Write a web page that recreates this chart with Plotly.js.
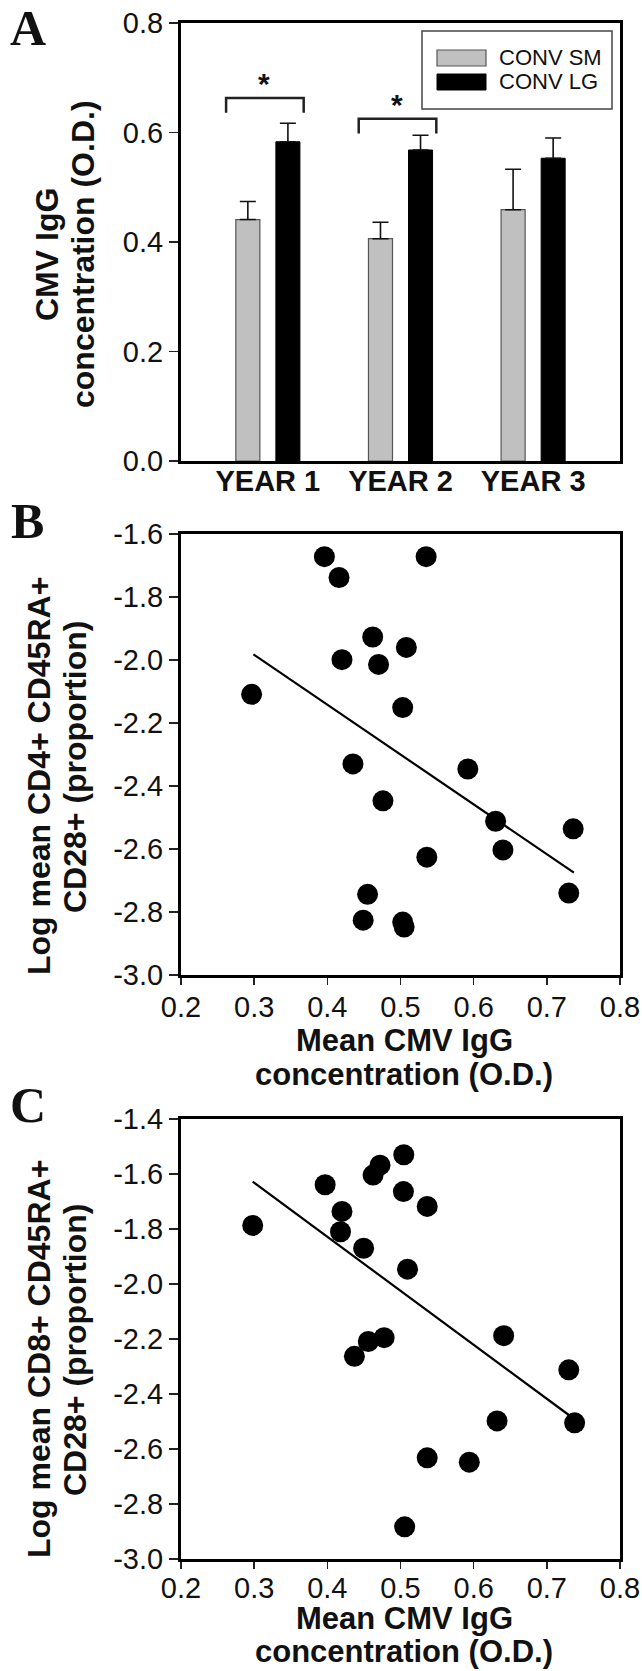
<!DOCTYPE html>
<html>
<head>
<meta charset="utf-8">
<script src="https://cdn.plot.ly/plotly-3.0.1.min.js"></script>
<style>
  html, body { margin: 0; padding: 0; background: #ffffff; }
  #chart { width: 642px; height: 1671px; }
</style>
</head>
<body>
<div id="chart"></div>
<script>
// ---------- Panel A data ----------
const years = ['YEAR 1', 'YEAR 2', 'YEAR 3'];
const seriesNames = ['CONV SM', 'CONV LG'];
const convSM = [0.441, 0.406, 0.459];
const convSMErr = [0.033, 0.030, 0.074];
const convLG = [0.583, 0.568, 0.553];
const convLGErr = [0.034, 0.027, 0.037];
const sigYears = ['YEAR 1', 'YEAR 2'];
const sigHeights = [0.663, 0.625];
const yTicksA = [0.0, 0.2, 0.4, 0.6, 0.8];

// ---------- Panel B data ----------
const igG_B = [0.396, 0.416, 0.535, 0.462, 0.508, 0.420, 0.470, 0.2965, 0.503, 0.435, 0.592,
               0.476, 0.630, 0.736, 0.640, 0.536, 0.455, 0.730, 0.449, 0.503, 0.505];
const cd4 = [-1.672, -1.738, -1.672, -1.927, -1.960, -1.999, -2.014, -2.109, -2.151, -2.330, -2.346,
             -2.447, -2.512, -2.536, -2.603, -2.626, -2.744, -2.740, -2.826, -2.832, -2.848];
const fitB_x = [0.299, 0.737];
const fitB_y = [-1.982, -2.675];
const yTicksB = [-3.0, -2.8, -2.6, -2.4, -2.2, -2.0, -1.8, -1.6];

// ---------- Panel C data ----------
const igG_C = [0.5045, 0.472, 0.4625, 0.397, 0.504, 0.5365, 0.420, 0.298, 0.418, 0.4496, 0.5096,
               0.641, 0.4776, 0.456, 0.437, 0.730, 0.632, 0.738, 0.5365, 0.594, 0.5057];
const cd8 = [-1.530, -1.568, -1.604, -1.639, -1.664, -1.718, -1.736, -1.787, -1.810, -1.870, -1.946,
             -2.188, -2.195, -2.209, -2.263, -2.312, -2.498, -2.505, -2.632, -2.648, -2.883];
const fitC_x = [0.298, 0.737];
const fitC_y = [-1.628, -2.49];
const yTicksC = [-3.0, -2.8, -2.6, -2.4, -2.2, -2.0, -1.8, -1.6, -1.4];
const xTicksBC = [0.2, 0.3, 0.4, 0.5, 0.6, 0.7, 0.8];

// ---------- titles ----------
const titleA = ['CMV IgG', 'concentration (O.D.)'];
const titleB = ['Log mean CD4+ CD45RA+', 'CD28+ (proportion)'];
const titleC = ['Log mean CD8+ CD45RA+', 'CD28+ (proportion)'];
const titleX = ['Mean CMV IgG', 'concentration (O.D.)'];

// ---------- geometry helpers ----------
const W = 642, H = 1671;
const px = x => x / W;
const py = y => 1 - y / H;
const SANS = 'Liberation Sans, Arial, Helvetica, sans-serif';
const SERIF = 'Liberation Serif, Times New Roman, serif';
const yearIdx = years.map((_, i) => i);

const traces = [
  {
    type: 'bar', name: seriesNames[0], x: yearIdx, y: convSM, xaxis: 'x', yaxis: 'y',
    marker: { color: '#c0c0c0', line: { color: '#555555', width: 1.2 } },
    error_y: { type: 'data', array: convSMErr, arrayminus: convSM.map(() => 0), symmetric: false,
               color: '#111111', thickness: 1.6, width: 8 },
    showlegend: false
  },
  {
    type: 'bar', name: seriesNames[1], x: yearIdx, y: convLG, xaxis: 'x', yaxis: 'y',
    marker: { color: '#000000', line: { color: '#000000', width: 1 } },
    error_y: { type: 'data', array: convLGErr, arrayminus: convLG.map(() => 0), symmetric: false,
               color: '#111111', thickness: 1.6, width: 8 },
    showlegend: false
  },
  {
    type: 'scatter', mode: 'markers', x: igG_B, y: cd4, xaxis: 'x2', yaxis: 'y2',
    marker: { color: '#000000', size: 21 }, showlegend: false
  },
  {
    type: 'scatter', mode: 'lines', x: fitB_x, y: fitB_y, xaxis: 'x2', yaxis: 'y2',
    line: { color: '#000000', width: 2.2 }, showlegend: false
  },
  {
    type: 'scatter', mode: 'markers', x: igG_C, y: cd8, xaxis: 'x3', yaxis: 'y3',
    marker: { color: '#000000', size: 21 }, showlegend: false
  },
  {
    type: 'scatter', mode: 'lines', x: fitC_x, y: fitC_y, xaxis: 'x3', yaxis: 'y3',
    line: { color: '#000000', width: 2.2 }, showlegend: false
  }
];

const frame = {
  showline: true, mirror: true, linecolor: '#000000', linewidth: 3,
  showgrid: false, zeroline: false, fixedrange: true
};
const tickFont = { family: SANS, size: 29, color: '#111111' };
const xDomain = [px(181), px(620)];

function yAxis(domTop, domBottom, range, vals) {
  return Object.assign({}, frame, {
    domain: [py(domBottom), py(domTop)], range: range, autorange: false,
    tickvals: vals, ticktext: vals.map(v => v.toFixed(1)),
    ticks: 'outside', ticklen: 9, tickwidth: 1.5, tickcolor: '#222222',
    tickfont: tickFont, ticklabelstandoff: 0
  });
}
function xAxisBC(anchor, standoff) {
  return Object.assign({}, frame, {
    domain: xDomain, anchor: anchor, range: [0.2, 0.8], autorange: false,
    tickvals: xTicksBC, ticktext: xTicksBC.map(v => v.toFixed(1)),
    ticks: 'outside', ticklen: 7, tickwidth: 1.5, tickcolor: '#222222',
    tickfont: tickFont, ticklabelstandoff: standoff
  });
}

// Significance brackets and stars
const shapes = [];
const annotations = [];
sigYears.forEach((yr, i) => {
  const c = years.indexOf(yr);
  const x0 = c - 0.315, x1 = c + 0.27, yt = sigHeights[i], ye = sigHeights[i] - 0.027;
  shapes.push({
    type: 'path', xref: 'x', yref: 'y',
    path: `M ${x0},${ye} L ${x0},${yt} L ${x1},${yt} L ${x1},${ye}`,
    line: { color: '#222222', width: 2.5 }
  });
  annotations.push({
    xref: 'x', yref: 'y', x: c - 0.03, y: yt + 0.026, text: '<b>*</b>', showarrow: false,
    font: { family: SANS, size: 30, color: '#111111' }, xanchor: 'center', yanchor: 'middle'
  });
});

// Legend (drawn box)
shapes.push({ type: 'rect', xref: 'paper', yref: 'paper', x0: px(422), x1: px(612), y0: py(109), y1: py(31),
              line: { color: '#444444', width: 1.5 }, fillcolor: 'rgba(0,0,0,0)' });
shapes.push({ type: 'rect', xref: 'paper', yref: 'paper', x0: px(437), x1: px(486), y0: py(66), y1: py(50),
              line: { color: '#555555', width: 1.2 }, fillcolor: '#c0c0c0' });
shapes.push({ type: 'rect', xref: 'paper', yref: 'paper', x0: px(437), x1: px(486), y0: py(90), y1: py(74),
              line: { color: '#000000', width: 1 }, fillcolor: '#000000' });
annotations.push({ xref: 'paper', yref: 'paper', x: px(497), y: py(58), xanchor: 'left', yanchor: 'middle',
                   text: seriesNames[0], showarrow: false, font: { family: SANS, size: 22, color: '#111111' } });
annotations.push({ xref: 'paper', yref: 'paper', x: px(497), y: py(82), xanchor: 'left', yanchor: 'middle',
                   text: seriesNames[1], showarrow: false, font: { family: SANS, size: 22, color: '#111111' } });

// Panel letters
[['A', 28, 28], ['B', 27, 521], ['C', 28, 1105]].forEach(([t, x, y]) => {
  annotations.push({ xref: 'paper', yref: 'paper', x: px(x), y: py(y), xanchor: 'center', yanchor: 'middle',
                     text: '<b>' + t + '</b>', showarrow: false,
                     font: { family: SERIF, size: 50, color: '#111111' } });
});

// Axis titles, one annotation per line
const titleFont = { family: SANS, size: 32, color: '#111111' };
const xTitleFont = { family: SANS, size: 31, color: '#111111' };
function rotLine(text, x, y) {
  annotations.push({ xref: 'paper', yref: 'paper', x: px(x), y: py(y), xanchor: 'center', yanchor: 'middle',
                     textangle: -90, text: '<b>' + text + '</b>', showarrow: false, font: titleFont });
}
function horLine(text, x, y) {
  annotations.push({ xref: 'paper', yref: 'paper', x: px(x), y: py(y), xanchor: 'center', yanchor: 'middle',
                     text: '<b>' + text + '</b>', showarrow: false, font: xTitleFont });
}
rotLine(titleA[0], 47, 254);
rotLine(titleA[1], 83, 254);
rotLine(titleB[0], 39, 776);
rotLine(titleB[1], 75, 767);
rotLine(titleC[0], 39, 1359);
rotLine(titleC[1], 75, 1350);
horLine(titleX[0], 404, 1040);
horLine(titleX[1], 404, 1074);
horLine(titleX[0], 404, 1618);
horLine(titleX[1], 404, 1651);

const layout = {
  width: W, height: H,
  margin: { l: 0, r: 0, t: 0, b: 0 },
  paper_bgcolor: '#ffffff', plot_bgcolor: '#ffffff',
  showlegend: false,
  barmode: 'group', bargap: 0.396, bargroupgap: 0.4,
  xaxis: Object.assign({}, frame, {
    domain: xDomain, anchor: 'y', range: [-0.655, 2.655], autorange: false,
    tickvals: yearIdx, ticktext: years, ticks: '',
    tickfont: { family: SANS, size: 29, color: '#111111', weight: 'bold' }, ticklabelstandoff: -8
  }),
  yaxis: Object.assign(yAxis(23, 461, [0, 0.8], yTicksA), { anchor: 'x' }),
  xaxis2: xAxisBC('y2', -3),
  yaxis2: Object.assign(yAxis(534, 975, [-3.0, -1.6], yTicksB), { anchor: 'x2' }),
  xaxis3: xAxisBC('y3', -6),
  yaxis3: Object.assign(yAxis(1119, 1559, [-3.0, -1.4], yTicksC), { anchor: 'x3' }),
  shapes: shapes,
  annotations: annotations
};

Plotly.newPlot('chart', traces, layout, { staticPlot: true, displayModeBar: false });
</script>
</body>
</html>
